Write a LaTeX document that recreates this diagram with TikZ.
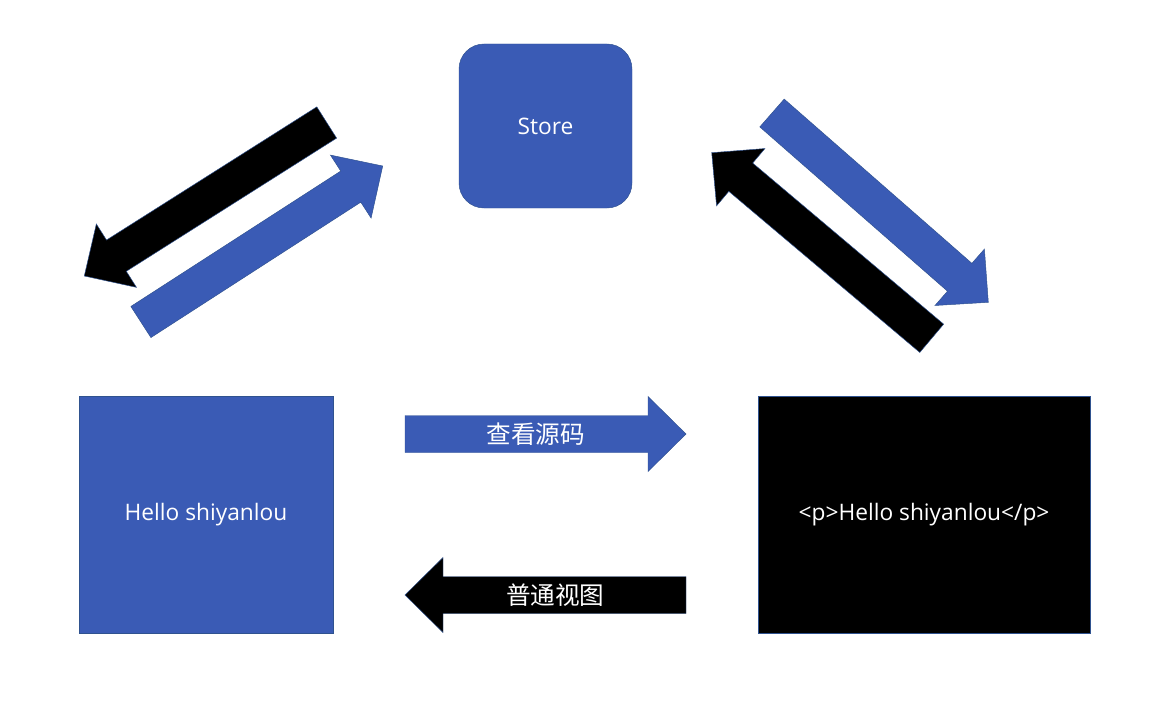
\documentclass[tikz,border=0pt]{standalone}
\usepackage{fontspec}
\setmainfont{Open Sans}
\newfontfamily\cjk{Noto Sans CJK SC}
\usetikzlibrary{calc,positioning}
\definecolor{boxblue}{HTML}{3A5BB5}
\definecolor{edgeblue}{HTML}{2F528F}

% block arrow: [style] {tail} {tip} {text}
\newcommand{\fatarrow}[4][]{%
  \coordinate (head) at ($(#3)!11.4mm!(#2)$);
  \path[#1] ($(#2)!5.55mm!90:(#3)$) -- ($(head)!5.55mm!90:(#3)$)
    -- ($(head)!11.25mm!90:(#3)$) -- (#3) -- ($(head)!11.25mm!-90:(#3)$)
    -- ($(head)!5.55mm!-90:(#3)$) -- ($(#2)!5.55mm!-90:(#3)$) -- cycle;
  \node[arrowtext] at ($(#2)!0.465!(#3)$) {#4};
}

\begin{document}
\begin{tikzpicture}[
	x=0.3mm, y=-0.3mm,
	box/.style = {rectangle, draw=edgeblue, line width=0.4pt, text=white,
		inner sep=0pt, font=\fontsize{19.4}{23}\selectfont},
	bluearrow/.style = {fill=boxblue, draw=edgeblue, line width=0.4pt},
	blackarrow/.style = {fill=black, draw=edgeblue, line width=0.4pt},
	arrowtext/.style = {text=white, inner sep=0pt, font=\cjk\fontsize{21}{24}\selectfont},
	]
	\useasboundingbox (0,0) rectangle (1170,700);

	\node[box, fill=boxblue, rounded corners=7.5mm, minimum width=51.9mm,
		minimum height=49.2mm] (store) at (545.5,126) {Store};
	\node[box, fill=boxblue, minimum width=76.2mm, minimum height=71.1mm]
		(view) at (206,514.5) {Hello shiyanlou};
	\node[box, fill=black, minimum width=99.6mm, minimum height=71.1mm]
		(code) at (924,514.5) {<p>Hello shiyanlou</p>};

	% ends of the block arrows
	\coordinate (src-a) at (405,434);
	\coordinate (src-b) at (686,434);
	\coordinate (nrm-a) at (686,595);
	\coordinate (nrm-b) at (405,595);
	\coordinate (sv-a) at (326.7,122.5);
	\coordinate (sv-b) at (84.3,276);
	\coordinate (vs-a) at (140.9,322);
	\coordinate (vs-b) at (382.7,166);
	\coordinate (sc-a) at (772,113);
	\coordinate (sc-b) at (988.3,302.3);
	\coordinate (cs-a) at (931.7,338.3);
	\coordinate (cs-b) at (711.7,152.7);

	\fatarrow[blackarrow]{sv-a}{sv-b}{}
	\fatarrow[bluearrow]{vs-a}{vs-b}{}
	\fatarrow[bluearrow]{sc-a}{sc-b}{}
	\fatarrow[blackarrow]{cs-a}{cs-b}{}
	\fatarrow[bluearrow]{src-a}{src-b}{查看源码}
	\fatarrow[blackarrow]{nrm-a}{nrm-b}{普通视图}
\end{tikzpicture}
\end{document}
